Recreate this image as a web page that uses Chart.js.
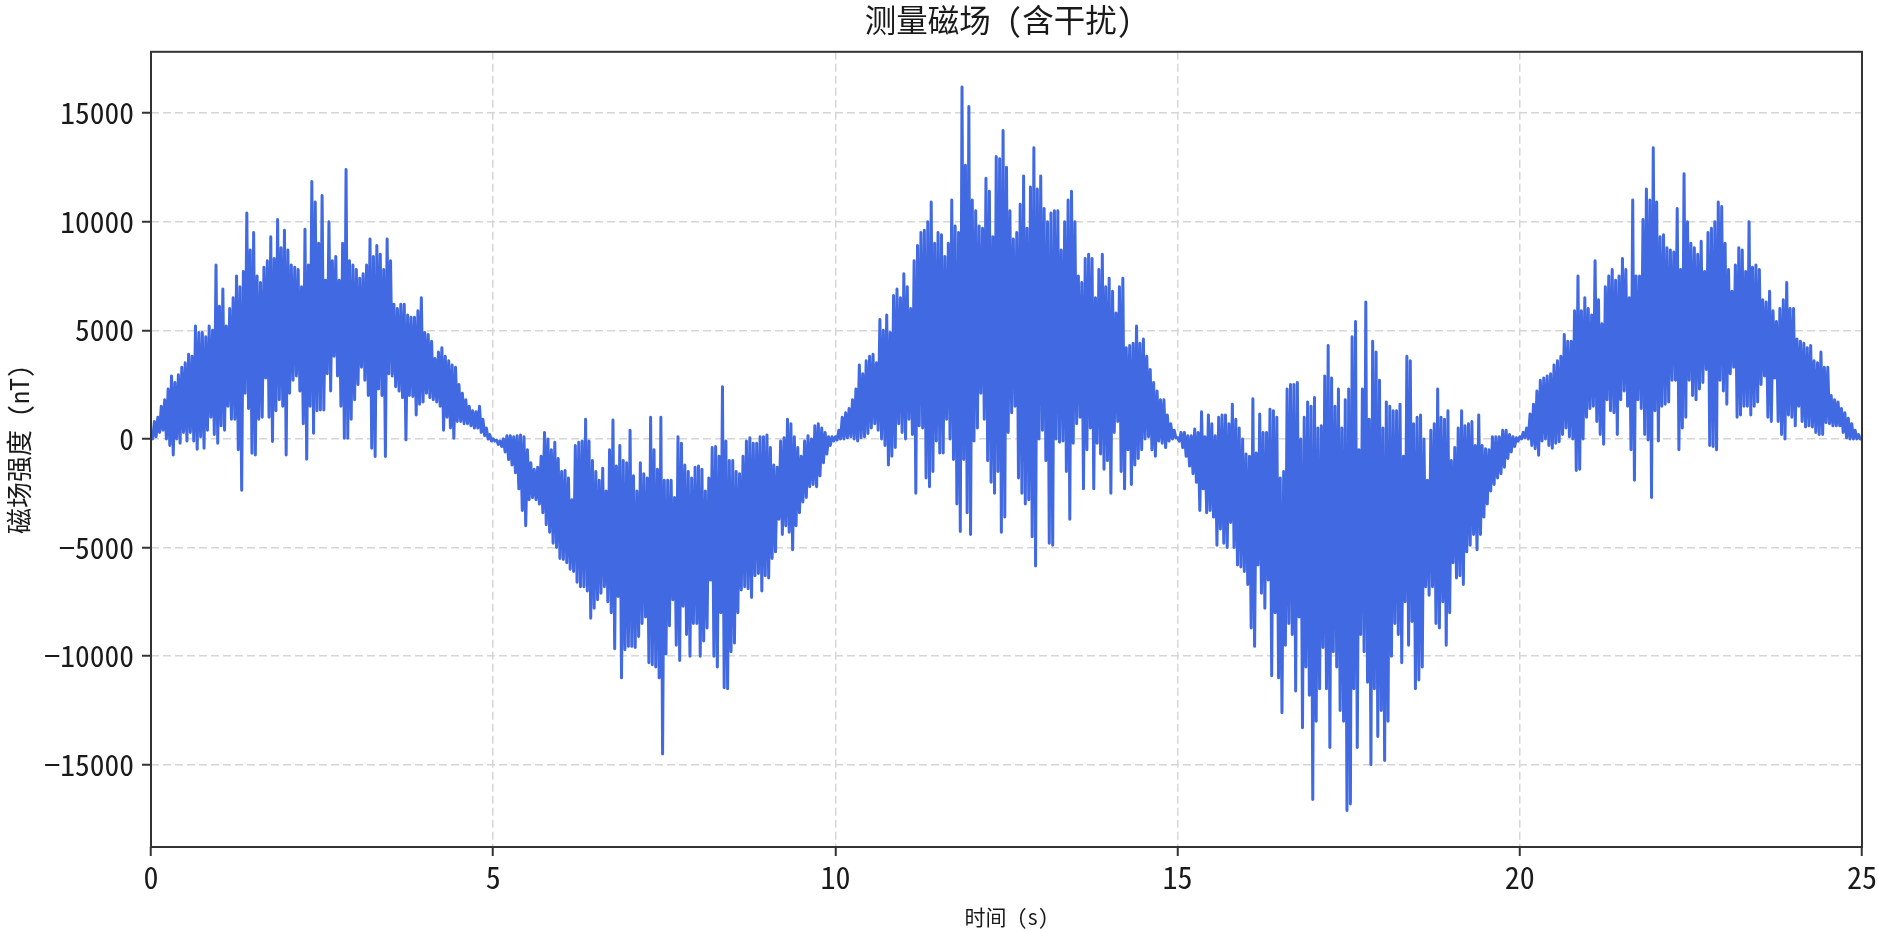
<!DOCTYPE html>
<html>
<head>
<meta charset="utf-8">
<title>测量磁场 (含干扰)</title>
<script src="https://cdn.jsdelivr.net/npm/chart.js@4"></script>
<style>
  html, body { margin: 0; padding: 0; background: #fff; }
  canvas { display: block; }
</style>
</head>
<body>
<canvas id="fieldChart" width="1878" height="932"></canvas>
<script>
// Peaks, one high and one low every 0.05 s (nT)
const high0to5 = [300,800,1000,1500,1800,2300,2900,2600,2950,3300,3500,3900,3800,5200,4900,4900,4700,5200,5000,8000,6100,6900,5200,6000,6500,7500,7000,7700,10400,8700,9500,7500,7200,7900,8200,9300,8300,10100,8800,9600,8700,8000,7900,7800,7000,9650,8000,11850,10900,9000,11200,7300,10000,8200,8400,7300,9000,12400,8200,8000,7800,7400,7600,8000,9200,8400,8900,8500,7800,9200,8200,6200,6000,6200,6200,5700,5600,5600,5900,6500,4900,4800,4500,3700,4000,4200,3800,3600,3400,3300,2500,2100,1800,1500,1300,1250,1500,900,500,200];
const low0to5 = [0,100,300,400,0,-300,-740,0,-200,300,-100,300,-100,-480,100,-430,400,1000,200,-200,600,400,1500,900,900,-500,-2360,2100,1400,-660,-740,900,1000,2800,1000,-120,1300,1800,1500,-740,2100,2700,2900,2200,700,-935,1500,260,1300,1330,1330,3000,2200,3800,2900,1500,30,30,900,1800,2500,3300,2700,2000,-430,-810,2300,2000,-810,3000,2900,2400,2200,1900,-45,2000,1950,1100,1600,1700,2100,1900,1800,1700,1500,400,1000,500,30,800,800,700,700,600,500,500,300,150,0,-100];

const high5to10 = [0,-50,-100,0,150,150,100,150,180,100,-500,-1100,-1400,-1300,-800,300,0,-500,-150,-900,-1500,-1450,-1800,-2800,-300,-150,-100,900,-100,-1000,-1500,-1900,-1350,-2400,-500,870,-1250,-300,-1000,-1100,400,-1700,-2400,-1100,-1600,-1800,1000,-500,-1400,1000,-1900,-1900,-1900,-2700,100,-200,-1200,-1500,-1800,-1300,-1250,-1400,-2400,-1800,-400,-350,-800,2400,-100,-1000,-1000,-1500,-1600,-800,-100,50,-200,-200,100,100,180,-400,-1200,-1300,-100,50,900,700,100,-400,-800,-100,150,0,600,700,500,300,100,100];
const low5to10 = [-100,-250,-350,-600,-950,-1200,-1560,-2300,-3300,-4000,-2800,-2700,-2800,-3000,-3400,-3950,-4300,-4800,-5000,-5500,-5550,-5700,-6000,-6100,-6600,-6800,-6800,-7000,-8250,-7800,-7400,-7100,-6800,-7500,-8000,-9660,-7250,-11000,-9700,-9550,-9550,-9600,-9100,-8500,-8200,-10300,-10400,-10500,-11000,-14500,-9900,-8600,-7400,-9500,-10200,-7700,-9000,-10000,-8500,-8500,-10000,-9300,-8700,-6500,-10000,-10500,-8000,-11450,-11500,-9800,-9400,-8000,-6950,-6800,-6900,-7300,-6300,-6200,-7000,-6300,-6400,-5500,-5200,-3700,-4400,-4000,-4300,-5100,-4000,-3400,-2900,-2700,-2200,-2100,-2200,-1700,-1100,-700,-300,-100];

const high10to15 = [100,400,1000,1200,1400,1800,2300,3400,3000,3600,3800,3900,3500,5500,5000,5700,4900,6600,6900,6500,7600,7000,6000,8200,8900,9500,9600,10000,10900,9000,9500,9400,8400,9000,11000,9800,9500,16200,12600,15300,11000,10500,9800,9700,12000,11400,9300,13000,12900,14200,12500,10500,9200,9500,10800,12100,9700,11600,13400,11500,12100,10600,10000,10400,10500,10500,8700,10000,11000,11400,10000,7500,7200,8300,8500,8300,6500,7800,8500,7000,7400,6800,5800,7000,7400,4200,4300,4400,5200,4400,4600,3800,3200,2600,2200,1800,1800,1100,700,400];
const low10to15 = [-50,0,0,50,100,0,-100,50,100,250,500,700,400,0,-300,-1200,-800,-400,700,300,0,900,200,-2500,600,500,-1800,-2200,-1500,-100,-650,-650,900,0,-950,-3000,-4260,-950,-3400,-4400,-100,500,2100,900,-1000,-2000,-2500,-1500,-4300,-3600,300,1200,1500,-1800,-2500,-3000,-2800,-4500,-5850,0,400,-1000,-4800,-4900,0,-150,-100,-1500,-3700,-200,700,1000,-2300,-500,500,-2300,-200,-700,-1400,-1000,-2500,300,800,-1500,-2300,-500,-2100,-1200,-900,-500,0,100,-500,-800,-100,-200,-400,-100,0,50];

const high15to20 = [50,300,300,150,150,450,300,1250,100,1100,700,150,1000,1100,1100,700,1600,900,500,0,-700,-800,1850,-650,1150,300,300,1370,1300,1000,-1800,-1500,2300,2500,2500,2600,0,1000,1700,1500,1900,500,600,2900,4300,2800,1500,2300,500,1800,2300,4700,5400,-500,2300,6300,900,4500,4000,2700,500,1700,1500,1300,1300,1600,-800,3800,3600,700,1000,1100,0,-1900,400,700,2300,1000,900,1300,-1000,-400,500,1300,600,700,800,-300,1100,-300,-450,-500,100,100,100,400,400,200,100,50];
const low15to20 = [-100,-400,-800,-1250,-1600,-2000,-3300,-2300,-3400,-3300,-3600,-4900,-4150,-4800,-5000,-3850,-5000,-5800,-5900,-6100,-6700,-8700,-9550,-5800,-7100,-7800,-6500,-10900,-8000,-11000,-12600,-9500,-8500,-9000,-11600,-8200,-13300,-10500,-11800,-16600,-13000,-11500,-9600,-11500,-14200,-9800,-10500,-12500,-13000,-17100,-16800,-11500,-14200,-9000,-9800,-11200,-15000,-11500,-13700,-12500,-14800,-13000,-10000,-8500,-9000,-10300,-7500,-9500,-8400,-11500,-11100,-10500,-6800,-7200,-6800,-8500,-8700,-7500,-9500,-8000,-5700,-6400,-6300,-6700,-5200,-4900,-4400,-5100,-4400,-3600,-3000,-2400,-2100,-1800,-1600,-1300,-900,-600,-350,-100];

const high20to25 = [100,300,500,1150,1600,2200,2700,2800,2900,3000,3400,3600,3800,4800,4500,4500,5900,7500,5900,6500,6000,5700,8200,6400,5300,7000,7500,7800,7300,7500,8300,7800,6500,11000,7500,7500,10100,11500,11000,13400,10900,9300,9400,8800,8700,8600,10600,7800,12200,10000,9000,8800,8500,9100,7700,9500,9700,10000,10900,10700,9000,7800,6800,8000,8800,8700,7700,10000,7900,8000,7800,6400,6300,6800,5900,5400,6000,6400,7200,6000,6000,4600,4500,4400,4200,4300,3600,3500,4000,3300,3300,2000,1800,1700,1400,1200,950,700,400,200];
const low20to25 = [0,50,0,-300,-450,-750,-100,0,-300,-430,-200,-130,200,500,100,0,-1450,-1400,0,1000,1400,1500,800,200,-250,1800,1300,1200,200,1800,2200,1500,-500,-1900,1800,1400,200,-50,-2700,1300,-100,1500,1600,1700,2700,2700,-500,500,1000,2700,2000,1800,2300,2600,3200,-300,-350,-500,2700,2200,1600,3000,3300,1000,1100,1500,1500,1100,1500,1700,2500,2900,1000,800,2800,800,200,0,1100,1000,600,1500,800,550,600,550,300,200,200,750,700,600,600,600,300,50,0,0,0,0];

const peakStep = 0.05;
const xTicks = [0, 5, 10, 15, 20, 25];
const yTicks = [-15000, -10000, -5000, 0, 5000, 10000, 15000];

const highs = [...high0to5, ...high5to10, ...high10to15, ...high15to20, ...high20to25];
const lows = [...low0to5, ...low5to10, ...low10to15, ...low15to20, ...low20to25];

// The trace swings between its high and its low in every step
const trace = [];
highs.forEach((h, i) => {
  trace.push({ x: i * peakStep, y: h });
  trace.push({ x: (i + 0.5) * peakStep, y: lows[i] });
});
trace.push({ x: 25, y: 0 });

const monoFont = '"Noto Sans Mono CJK SC", "DejaVu Sans Condensed", sans-serif';
const inkColor = '#1a1a1a';

// Matplotlib style box around the plot
const frame = {
  id: 'frame',
  afterDatasetsDraw(chart) {
    const a = chart.chartArea;
    const ctx = chart.ctx;
    ctx.save();
    ctx.strokeStyle = '#333';
    ctx.lineWidth = 2;
    ctx.strokeRect(a.left, a.top, a.right - a.left, a.bottom - a.top);
    ctx.restore();
  }
};

new Chart(document.getElementById('fieldChart'), {
  type: 'line',
  data: {
    datasets: [{
      label: '测量磁场',
      data: trace,
      borderColor: '#4169E1',
      borderWidth: 3,
      borderJoinStyle: 'round',
      pointRadius: 0,
      tension: 0,
      fill: false
    }]
  },
  options: {
    responsive: false,
    animation: false,
    parsing: false,
    layout: { padding: { left: 0, right: 16, top: 0, bottom: 0 } },
    plugins: {
      legend: { display: false },
      tooltip: { enabled: false },
      title: {
        display: true,
        text: '测量磁场 (含干扰) ',
        color: inkColor,
        fullSize: false,
        font: { family: monoFont, size: 31.5, weight: 'normal', lineHeight: 1.2 },
        padding: { top: 1, bottom: 13 }
      }
    },
    scales: {
      x: {
        type: 'linear',
        min: 0,
        max: 25,
        afterBuildTicks(scale) { scale.ticks = xTicks.map(v => ({ value: v })); },
        afterFit(scale) {
          scale.height = 85;
          scale.paddingRight = 0;
          scale.paddingLeft = 0;
        },
        border: { display: false, dash: [8, 4] },
        grid: { color: '#d6d6d6', lineWidth: 1.5, tickColor: '#333', tickLength: 9, tickWidth: 2, tickBorderDash: [] },
        ticks: { color: inkColor, font: { family: monoFont, size: 30 }, padding: 4, maxRotation: 0, autoSkip: false,
          callback: v => String(v) },
        title: {
          display: true,
          text: '时间 (s)',
          color: inkColor,
          font: { family: monoFont, size: 21 },
          padding: { top: 0, bottom: 2 }
        }
      },
      y: {
        min: -18785,
        max: 17818,
        afterBuildTicks(scale) { scale.ticks = yTicks.map(v => ({ value: v })); },
        afterFit(scale) { scale.width = 151; },
        border: { display: false, dash: [8, 4] },
        grid: { color: '#d6d6d6', lineWidth: 1.5, tickColor: '#333', tickLength: 9, tickWidth: 2, tickBorderDash: [] },
        ticks: { color: inkColor, font: { family: monoFont, size: 29.5 }, padding: 8, autoSkip: false,
          callback: v => String(v).replace('-', '\u2212') },
        title: {
          display: true,
          text: '磁场强度 (nT)',
          color: inkColor,
          font: { family: monoFont, size: 26 },
          padding: { top: 4, bottom: 0 }
        }
      }
    }
  },
  plugins: [frame]
});
</script>
</body>
</html>
